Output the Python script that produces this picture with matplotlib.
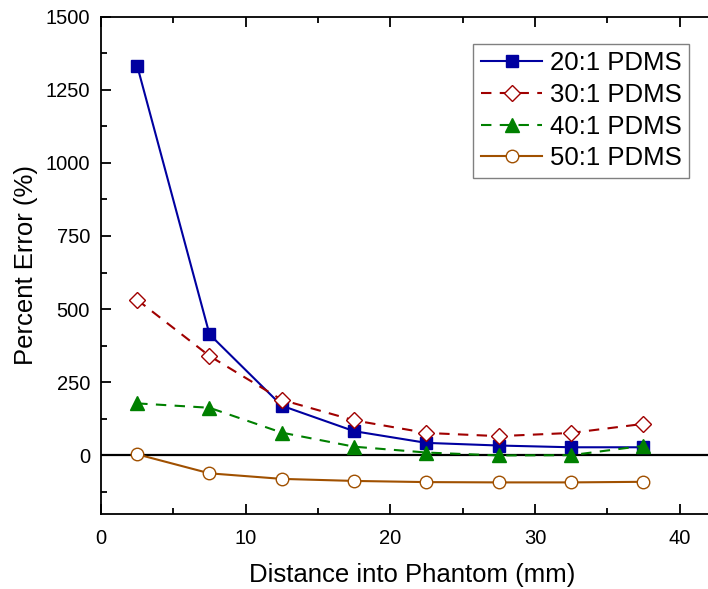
import matplotlib
matplotlib.use("Agg")
import matplotlib.pyplot as plt
from matplotlib.ticker import MultipleLocator

plt.rcParams['font.family'] = ['Liberation Sans', 'DejaVu Sans']

distance = [2.5, 7.5, 12.5, 17.5, 22.5, 27.5, 32.5, 37.5]
pdms20 = [1332, 414, 170, 83, 43, 34, 28, 28]
pdms30 = [532, 340, 190, 120, 77, 66, 77, 108]
pdms40 = [178, 163, 78, 30, 10, 0, 1, 33]
pdms50 = [4, -61, -80, -87, -91, -92, -92, -90]
labels = ["20:1 PDMS", "30:1 PDMS", "40:1 PDMS", "50:1 PDMS"]

fig = plt.figure(figsize=(7.08, 5.89), dpi=100)
ax = fig.add_axes([101/708, 1-514/589, 622/708, (514-16.5)/589])

ax.axhline(0, color='black', lw=1.6, zorder=1)

ax.plot(distance, pdms20, color='#0000A0', lw=1.5, marker='s', ms=8,
        mfc='#0000A0', mec='#0000A0', label=labels[0], zorder=3)
ax.plot(distance, pdms30, color='#A00000', lw=1.5, ls=(0, (5, 4)), marker='D', ms=8,
        mfc='white', mec='#A00000', mew=1.0, label=labels[1], zorder=3)
ax.plot(distance, pdms40, color='#008000', lw=1.5, ls=(0, (5, 4)), marker='^', ms=10,
        mfc='#008000', mec='#008000', label=labels[2], zorder=3)
ax.plot(distance, pdms50, color='#A05000', lw=1.5, marker='o', ms=9,
        mfc='white', mec='#A05000', mew=1.0, label=labels[3], zorder=3)

ax.set_xlim(0, 43)
ax.set_ylim(-200, 1500)
ax.xaxis.set_major_locator(MultipleLocator(10))
ax.xaxis.set_minor_locator(MultipleLocator(5))
ax.yaxis.set_major_locator(MultipleLocator(250))
ax.yaxis.set_minor_locator(MultipleLocator(125))
ax.tick_params(which='both', direction='in', top=True, right=True, width=1.3,
               labelsize=14.5)
ax.tick_params(axis='x', pad=11)
ax.tick_params(axis='y', pad=8)
ax.tick_params(which='major', length=7)
ax.tick_params(which='minor', length=4)
for s in ax.spines.values():
    s.set_linewidth(1.3)

ax.set_xlabel("Distance into Phantom (mm)", fontsize=18.5, labelpad=10.5)
ax.set_ylabel("Percent Error (%)", fontsize=18.5, labelpad=5)

leg = ax.legend(loc='upper right', bbox_to_anchor=(689/708, 1-44/589),
                bbox_transform=fig.transFigure, fontsize=18.5, fancybox=False,
                framealpha=1, edgecolor='#808080', handlelength=2.4,
                handletextpad=0.3, labelspacing=0.3, borderpad=0.28,
                borderaxespad=0)
leg.get_frame().set_linewidth(1.0)

fig.savefig("out.png", dpi=100)
